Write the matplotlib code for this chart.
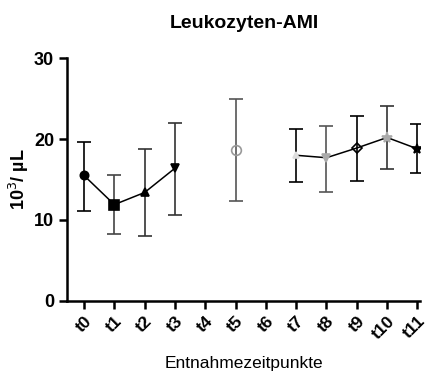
import numpy as np
import matplotlib
matplotlib.use('Agg')
import matplotlib.pyplot as plt

plt.rcParams['font.family'] = ['Liberation Sans', 'DejaVu Sans']

# data
labels = ['t0', 't1', 't2', 't3', 't4', 't5', 't6', 't7', 't8', 't9', 't10', 't11']
means = [15.5, 11.9, 13.4, 16.4, np.nan, 18.7, np.nan, 18.0, 17.7, 18.9, 20.2, 18.8]
upper = [19.7, 15.6, 18.8, 22.0, np.nan, 25.0, np.nan, 21.2, 21.6, 22.9, 24.1, 21.9]
lower = [11.1, 8.3, 8.05, 10.6, np.nan, 12.3, np.nan, 14.7, 13.5, 14.8, 16.3, 15.8]

markers = ['o', 's', '^', 'v', None, 'o', None, '^', 'v', 'D', '*', '*']
mface = ['black', 'black', 'black', 'black', None, 'none', None, '#dddddd', '#aaaaaa', 'none', '#aaaaaa', 'black']
medge = ['black', 'black', 'black', 'black', None, '#999999', None, '#dddddd', '#aaaaaa', 'black', '#aaaaaa', 'black']
msize = [6, 7, 6, 6, 0, 7, 0, 5, 6, 5.5, 8, 7]
errcol = ['black', '#444444', '#333333', '#333333', None, '#555555', None, 'black', '#555555', 'black', '#333333', 'black']

x = np.arange(len(labels))
means = np.array(means)
upper = np.array(upper)
lower = np.array(lower)

fig, ax = plt.subplots(figsize=(4.29, 3.76), dpi=100)
fig.subplots_adjust(left=0.157, right=0.98, bottom=0.2, top=0.845)

# connecting lines (broken at missing time points)
ax.plot(x, means, color='black', lw=1.1, zorder=2)

for i in range(len(x)):
    if np.isnan(means[i]):
        continue
    ax.errorbar(x[i], means[i], yerr=[[means[i] - lower[i]], [upper[i] - means[i]]],
                fmt='none', ecolor=errcol[i], elinewidth=1.2, capsize=5, capthick=1.2, zorder=1)
    ax.plot(x[i], means[i], marker=markers[i], markersize=msize[i],
            markerfacecolor=mface[i], markeredgecolor=medge[i], markeredgewidth=1.2,
            linestyle='none', zorder=3)

ax.set_xlim(-0.55, 11.1)
ax.set_ylim(0, 30)
ax.set_yticks([0, 10, 20, 30])
ax.set_xticks(x)
ax.set_xticklabels(labels, rotation=45, ha='right', rotation_mode='anchor',
                   fontweight='bold', fontsize=12.5)
for lbl in ax.get_yticklabels():
    lbl.set_fontweight('bold')
    lbl.set_fontsize(13)

ax.spines['top'].set_visible(False)
ax.spines['right'].set_visible(False)
ax.spines['left'].set_linewidth(1.8)
ax.spines['bottom'].set_linewidth(1.8)
ax.tick_params(axis='both', width=1.8, length=6)
ax.tick_params(axis='x', pad=3)

ax.set_title('Leukozyten-AMI', fontweight='bold', fontsize=14, pad=22)
ax.set_ylabel('10$^3$/ µL', fontweight='bold', fontsize=13, labelpad=2)
ax.set_xlabel('Entnahmezeitpunkte', fontsize=12.5, labelpad=10)

fig.savefig('out.png', dpi=100)
